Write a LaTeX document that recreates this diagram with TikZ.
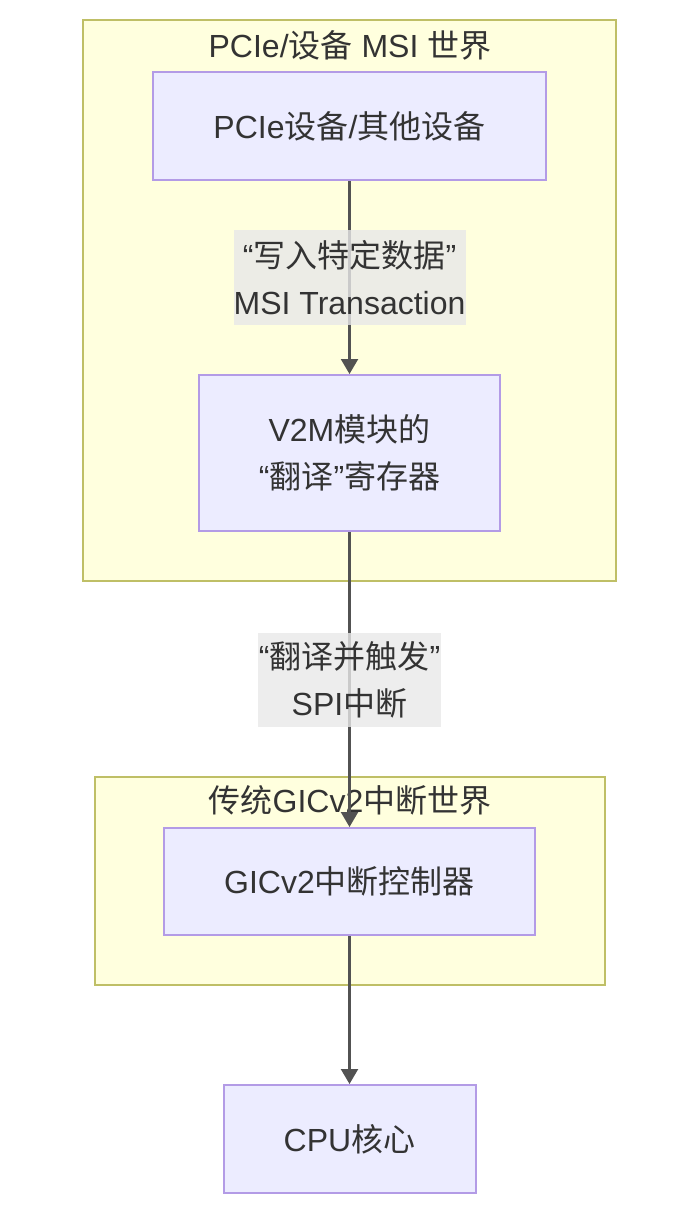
\documentclass[tikz,border=0pt]{standalone}
\usepackage{fontspec}
\setmainfont{Liberation Sans}
\newfontfamily\cjk{Noto Sans CJK SC}
\usetikzlibrary{arrows.meta}
\definecolor{worldfill}{HTML}{FFFFDE}
\definecolor{worlddraw}{HTML}{AAAA33}
\definecolor{blockfill}{HTML}{ECECFF}
\definecolor{blockdraw}{HTML}{9370DB}
\definecolor{labelfill}{HTML}{E8E8E8}
\definecolor{ink}{HTML}{333333}
\tikzset{
  world/.style={
    draw=worlddraw!75!white,
    fill=worldfill,
    line width=1pt,
    inner sep=0pt
  },
  block/.style={
    draw=blockdraw!70!white,
    fill=blockfill,
    line width=1pt,
    align=center,
    inner sep=0pt
  },
  flow/.style={
    draw=ink!85!white,
    line width=1.1pt,
    -{Triangle[length=7.5pt,width=8.5pt]}
  },
  flowlabel/.style={
    fill=labelfill,
    fill opacity=0.8,
    text opacity=1,
    align=center,
    inner sep=0pt
  },
  every picture/.style={
    font=\fontsize{16pt}{23.5pt}\selectfont,
    text=ink
  }
}
\begin{document}
\begin{tikzpicture}[x=0.5pt,y=-0.5pt]
  \useasboundingbox (0,0) rectangle (694,1210);
  % the two worlds
  \node[world, minimum width=266.5pt, minimum height=280.5pt] (msiworld) at (349.5,300.5) {};
  \node[world, minimum width=255pt, minimum height=104pt] (gicworld) at (350,881) {};
  \node (msititle) at (350,45) {PCIe/{\cjk 设备} MSI {\cjk 世界}};
  \node (gictitle) at (350,800) {{\cjk 传统}GICv2{\cjk 中断世界}};
  % blocks
  \node[block, minimum width=196.5pt, minimum height=54pt] (pcie) at (349.5,126)
    {PCIe{\cjk 设备}/{\cjk 其他设备}};
  \node[block, minimum width=150.5pt, minimum height=78pt] (v2m) at (349.5,453)
    {V2M{\cjk 模块的}\\“{\cjk 翻译}”{\cjk 寄存器}};
  \node[block, minimum width=185.5pt, minimum height=53.5pt] (gic) at (349.5,881.5)
    {GICv2{\cjk 中断控制器}};
  \node[block, minimum width=126pt, minimum height=54pt] (cpu) at (349.5,1139)
    {CPU{\cjk 核心}};
  % connectors
  \draw[flow] (pcie) -- node[flowlabel, minimum width=116pt, minimum height=47.5pt]
    {“{\cjk 写入特定数据}”\\MSI Transaction} (v2m);
  \draw[flow] (v2m) -- node[flowlabel, minimum width=91.5pt, minimum height=47pt]
    {“{\cjk 翻译并触发}”\\SPI{\cjk 中断}} (gic);
  \draw[flow] (gic) -- (cpu);
\end{tikzpicture}
\end{document}
